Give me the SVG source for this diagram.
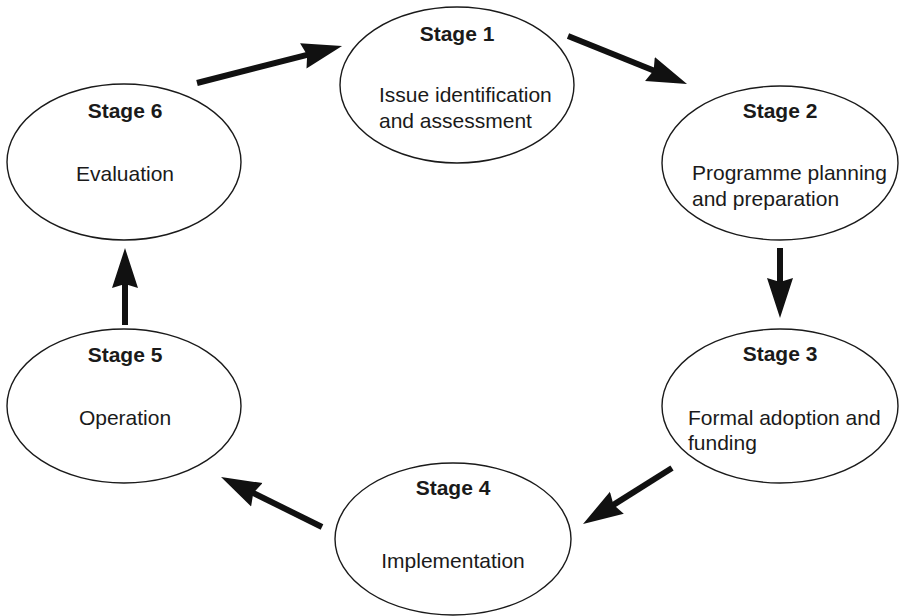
<svg xmlns="http://www.w3.org/2000/svg" width="903" height="616" viewBox="0 0 903 616">
<style>
.node ellipse{fill:#fff;stroke:#1a1a1a;stroke-width:1.4}
.t{font-family:"Liberation Sans",Arial,sans-serif;font-size:21px;fill:#1a1a1a}
.h{font-weight:bold;text-anchor:middle}
.c{text-anchor:middle}
.conn line{stroke:#111;stroke-width:6;marker-end:url(#ah)}
</style>
<defs>
<marker id="ah" markerUnits="userSpaceOnUse" markerWidth="40" markerHeight="30" viewBox="0 0 40 30" refX="6" refY="15" orient="auto">
<path d="M0,2 L40,15 L0,28 L4,15 z" fill="#111"/>
</marker>
</defs>
<rect width="903" height="616" fill="#fff"/>
<g id="stage1" class="node">
<ellipse cx="457" cy="85" rx="117" ry="78"/>
<text class="t h" x="457" y="41">Stage 1</text>
<text class="t" x="379" y="102">Issue identification</text>
<text class="t" x="379" y="128">and assessment</text>
</g>
<g id="stage2" class="node">
<ellipse cx="780" cy="163" rx="118" ry="77"/>
<text class="t h" x="780" y="118">Stage 2</text>
<text class="t" x="692" y="180">Programme planning</text>
<text class="t" x="692" y="206">and preparation</text>
</g>
<g id="stage3" class="node">
<ellipse cx="780" cy="406" rx="118" ry="77"/>
<text class="t h" x="780" y="361">Stage 3</text>
<text class="t" x="688" y="425">Formal adoption and</text>
<text class="t" x="688" y="450">funding</text>
</g>
<g id="stage4" class="node">
<ellipse cx="453" cy="539" rx="118" ry="76"/>
<text class="t h" x="453" y="495">Stage 4</text>
<text class="t c" x="453" y="568">Implementation</text>
</g>
<g id="stage5" class="node">
<ellipse cx="124" cy="406" rx="117" ry="77"/>
<text class="t h" x="125" y="362">Stage 5</text>
<text class="t c" x="125" y="425">Operation</text>
</g>
<g id="stage6" class="node">
<ellipse cx="124" cy="162" rx="117" ry="78"/>
<text class="t h" x="125" y="118">Stage 6</text>
<text class="t c" x="125" y="181">Evaluation</text>
</g>
<g id="connectors" class="conn">
<line x1="197" y1="83" x2="309.1" y2="54.4"/>
<line x1="568" y1="36" x2="655.5" y2="71.3"/>
<line x1="780" y1="248" x2="780" y2="284"/>
<line x1="672" y1="468" x2="611.8" y2="505.9"/>
<line x1="322" y1="527" x2="251.5" y2="492.1"/>
<line x1="125" y1="325" x2="125" y2="282"/>
</g>
</svg>
